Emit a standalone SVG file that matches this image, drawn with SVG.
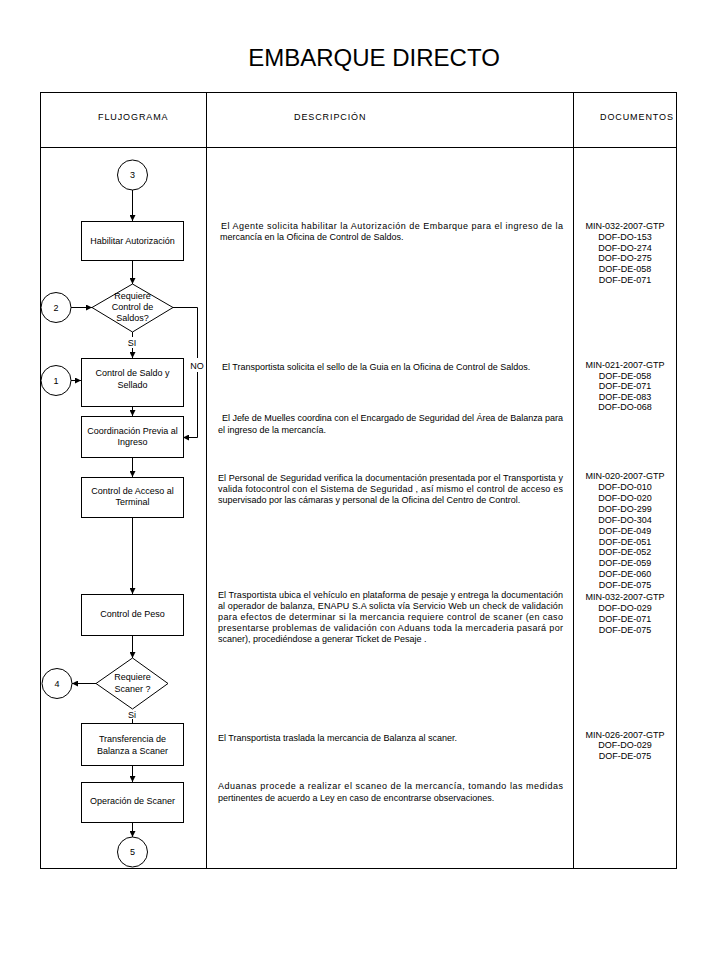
<svg xmlns="http://www.w3.org/2000/svg" width="720" height="960" viewBox="0 0 720 960">
<defs>
<marker id="ah" viewBox="0 0 10 10" refX="10" refY="5" markerWidth="6" markerHeight="6" orient="auto" markerUnits="userSpaceOnUse">
<path d="M0,0 L10,5 L0,10 z" fill="#000"/>
</marker>
<style>
text{font-family:"Liberation Sans",Arial,sans-serif;fill:#000}
.title{font-size:24px}
.hdr{font-size:9px;letter-spacing:0.9px}
.lbl{font-size:9px;text-anchor:middle}
.desc{font-size:9px}
.doc{font-size:9px;text-anchor:middle}
.shape{fill:#fff;stroke:#000;stroke-width:1}
.tbl{fill:none;stroke:#000;stroke-width:1}
.conn{fill:none;stroke:#000;stroke-width:1}
</style>
</defs>
<rect width="720" height="960" fill="#fff"/>
<text class="title" x="374" y="66" text-anchor="middle">EMBARQUE DIRECTO</text>

<g id="table">
<rect class="tbl" x="40.5" y="92.5" width="636" height="776"/>
<line class="tbl" x1="40" y1="147.5" x2="677" y2="147.5"/>
<line class="tbl" x1="206.5" y1="92" x2="206.5" y2="869"/>
<line class="tbl" x1="573.5" y1="92" x2="573.5" y2="869"/>
<text class="hdr" x="98" y="120">FLUJOGRAMA</text>
<text class="hdr" x="294" y="120">DESCRIPCIÓN</text>
<text class="hdr" x="600" y="120">DOCUMENTOS</text>
</g>

<g id="connectors">
<line class="conn" x1="132.5" y1="190" x2="132.5" y2="221" marker-end="url(#ah)"/>
<line class="conn" x1="132.5" y1="261" x2="132.5" y2="284" marker-end="url(#ah)"/>
<line class="conn" x1="71" y1="307.5" x2="92" y2="307.5" marker-end="url(#ah)"/>
<line class="conn" x1="132.5" y1="332" x2="132.5" y2="337"/>
<line class="conn" x1="132.5" y1="348" x2="132.5" y2="358" marker-end="url(#ah)"/>
<polyline class="conn" points="173,307.5 197.5,307.5 197.5,358"/>
<polyline class="conn" points="197.5,372 197.5,437.5 183,437.5" marker-end="url(#ah)"/>
<line class="conn" x1="71" y1="380.5" x2="81" y2="380.5" marker-end="url(#ah)"/>
<line class="conn" x1="132.5" y1="407" x2="132.5" y2="416" marker-end="url(#ah)"/>
<line class="conn" x1="132.5" y1="457" x2="132.5" y2="477" marker-end="url(#ah)"/>
<line class="conn" x1="132.5" y1="518" x2="132.5" y2="594" marker-end="url(#ah)"/>
<line class="conn" x1="132.5" y1="635" x2="132.5" y2="658" marker-end="url(#ah)"/>
<line class="conn" x1="96" y1="683.5" x2="72" y2="683.5" marker-end="url(#ah)"/>
<line class="conn" x1="132.5" y1="719" x2="132.5" y2="723"/>
<line class="conn" x1="132.5" y1="766" x2="132.5" y2="782" marker-end="url(#ah)"/>
<line class="conn" x1="132.5" y1="822" x2="132.5" y2="837" marker-end="url(#ah)"/>
<text class="lbl" x="132" y="346">SI</text>
<text class="lbl" x="197" y="369">NO</text>
<text class="lbl" x="132" y="718">Si</text>
</g>

<g id="c3"><circle class="shape" cx="132.5" cy="175" r="15"/><text class="lbl" x="132.5" y="178">3</text></g>
<g id="n-habilitar"><rect class="shape" x="81.5" y="221.5" width="102" height="39"/><text class="lbl" x="132.5" y="244">Habilitar Autorización</text></g>
<g id="d-saldos"><polygon class="shape" points="132.5,284 173,307.5 132.5,332 92,307.5"/>
<text class="lbl" x="132.5" y="299">Requiere</text><text class="lbl" x="132.5" y="310">Control de</text><text class="lbl" x="132.5" y="321">Saldos?</text></g>
<g id="c2"><circle class="shape" cx="56" cy="307.5" r="15"/><text class="lbl" x="56" y="310.5">2</text></g>
<g id="c1"><circle class="shape" cx="56" cy="380.5" r="15"/><text class="lbl" x="56" y="383.5">1</text></g>
<g id="n-saldo"><rect class="shape" x="81.5" y="358.5" width="102" height="48"/><text class="lbl" x="132.5" y="376">Control de Saldo y</text><text class="lbl" x="132.5" y="388">Sellado</text></g>
<g id="n-coord"><rect class="shape" x="81.5" y="416.5" width="102" height="41"/><text class="lbl" x="132.5" y="434">Coordinación Previa al</text><text class="lbl" x="132.5" y="445">Ingreso</text></g>
<g id="n-acceso"><rect class="shape" x="81.5" y="477.5" width="102" height="40"/><text class="lbl" x="132.5" y="494">Control de Acceso al</text><text class="lbl" x="132.5" y="505">Terminal</text></g>
<g id="n-peso"><rect class="shape" x="81.5" y="594.5" width="102" height="41"/><text class="lbl" x="132.5" y="617">Control de Peso</text></g>
<g id="d-scaner"><polygon class="shape" points="132.5,658 168,683.5 132.5,709 96,683.5"/>
<text class="lbl" x="132.5" y="680">Requiere</text><text class="lbl" x="132.5" y="692">Scaner ?</text></g>
<g id="c4"><circle class="shape" cx="57" cy="683.5" r="15"/><text class="lbl" x="57" y="686.5">4</text></g>
<g id="n-transf"><rect class="shape" x="81.5" y="723.5" width="102" height="42"/><text class="lbl" x="132.5" y="742">Transferencia de</text><text class="lbl" x="132.5" y="754">Balanza a Scaner</text></g>
<g id="n-oper"><rect class="shape" x="81.5" y="782.5" width="102" height="40"/><text class="lbl" x="132.5" y="804">Operación de Scaner</text></g>
<g id="c5"><circle class="shape" cx="132.5" cy="852" r="15"/><text class="lbl" x="132.5" y="855">5</text></g>

<g id="descriptions">
<text class="desc" x="221" y="229" textLength="342" lengthAdjust="spacing">El Agente solicita habilitar la Autorización de Embarque para el ingreso  de la</text>
<text class="desc" x="220" y="240">mercancía en la Oficina de Control de Saldos.</text>
<text class="desc" x="222" y="370">El Transportista solicita el sello de la Guia en la Oficina de Control de Saldos.</text>
<text class="desc" x="222" y="421" textLength="341" lengthAdjust="spacing">El Jefe de Muelles coordina con el Encargado de Seguridad del Área de Balanza para</text>
<text class="desc" x="218" y="433">el ingreso de la mercancía.</text>
<text class="desc" x="218" y="481" textLength="345" lengthAdjust="spacing">El Personal de Seguridad verifica la documentación presentada por el Transportista y</text>
<text class="desc" x="218" y="492" textLength="345" lengthAdjust="spacing">valida fotocontrol con el Sistema de Seguridad , así mismo el control de acceso es</text>
<text class="desc" x="218" y="503">supervisado por las cámaras y personal de la Oficina del Centro de Control.</text>
<text class="desc" x="218" y="598" textLength="345" lengthAdjust="spacing">El Trasportista ubica el vehículo en plataforma de pesaje y entrega la documentación</text>
<text class="desc" x="218" y="609" textLength="345" lengthAdjust="spacing">al operador de balanza,  ENAPU S.A solicta vía Servicio Web un check de validación</text>
<text class="desc" x="218" y="620" textLength="345" lengthAdjust="spacing">para efectos de determinar si  la mercancia requiere control de scaner (en caso</text>
<text class="desc" x="218" y="631" textLength="345" lengthAdjust="spacing">presentarse problemas de validación con Aduans toda la mercaderia pasará por</text>
<text class="desc" x="218" y="642">scaner), procediéndose a generar Ticket de Pesaje .</text>
<text class="desc" x="218" y="741">El Transportista traslada la mercancia de Balanza al scaner.</text>
<text class="desc" x="218" y="789" textLength="345" lengthAdjust="spacing">Aduanas procede a realizar el scaneo de la mercancía, tomando las medidas</text>
<text class="desc" x="218" y="801">pertinentes de acuerdo a Ley en caso de encontrarse observaciones.</text>
</g>

<g id="documents">
<text class="doc" x="625" y="229">MIN-032-2007-GTP</text>
<text class="doc" x="625" y="240">DOF-DO-153</text>
<text class="doc" x="625" y="251">DOF-DO-274</text>
<text class="doc" x="625" y="261">DOF-DO-275</text>
<text class="doc" x="625" y="272">DOF-DE-058</text>
<text class="doc" x="625" y="283">DOF-DE-071</text>
<text class="doc" x="625" y="368">MIN-021-2007-GTP</text>
<text class="doc" x="625" y="379">DOF-DE-058</text>
<text class="doc" x="625" y="389">DOF-DE-071</text>
<text class="doc" x="625" y="400">DOF-DE-083</text>
<text class="doc" x="625" y="410">DOF-DO-068</text>
<text class="doc" x="625" y="479">MIN-020-2007-GTP</text>
<text class="doc" x="625" y="490">DOF-DO-010</text>
<text class="doc" x="625" y="501">DOF-DO-020</text>
<text class="doc" x="625" y="512">DOF-DO-299</text>
<text class="doc" x="625" y="523">DOF-DO-304</text>
<text class="doc" x="625" y="534">DOF-DE-049</text>
<text class="doc" x="625" y="545">DOF-DE-051</text>
<text class="doc" x="625" y="555">DOF-DE-052</text>
<text class="doc" x="625" y="566">DOF-DE-059</text>
<text class="doc" x="625" y="577">DOF-DE-060</text>
<text class="doc" x="625" y="588">DOF-DE-075</text>
<text class="doc" x="625" y="600">MIN-032-2007-GTP</text>
<text class="doc" x="625" y="611">DOF-DO-029</text>
<text class="doc" x="625" y="622">DOF-DE-071</text>
<text class="doc" x="625" y="633">DOF-DE-075</text>
<text class="doc" x="625" y="738">MIN-026-2007-GTP</text>
<text class="doc" x="625" y="748">DOF-DO-029</text>
<text class="doc" x="625" y="759">DOF-DE-075</text>
</g>
</svg>
